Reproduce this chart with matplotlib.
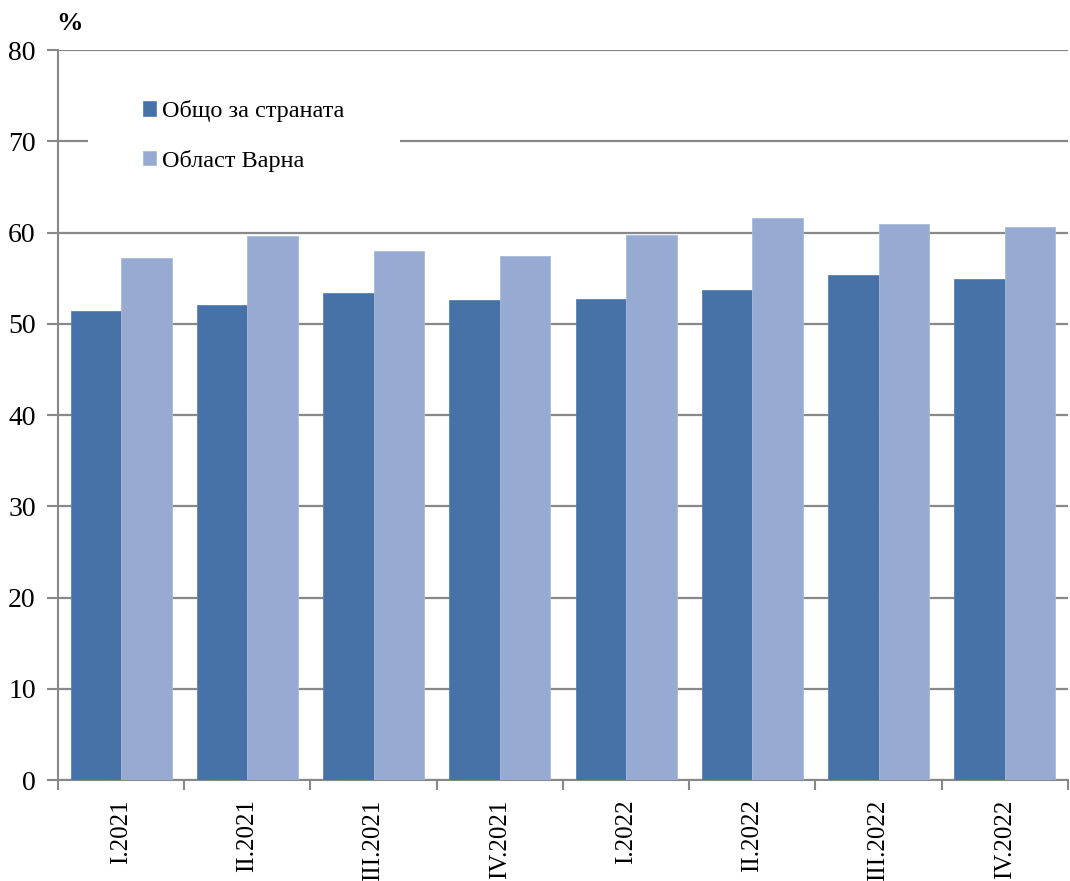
import numpy as np
import matplotlib.pyplot as plt
from matplotlib.patches import Rectangle
from matplotlib.ticker import FixedLocator

quarters = ["I.2021", "II.2021", "III.2021", "IV.2021",
            "I.2022", "II.2022", "III.2022", "IV.2022"]
country = [51.4, 52.1, 53.4, 52.6, 52.7, 53.7, 55.4, 54.9]
varna = [57.2, 59.6, 58.0, 57.4, 59.7, 61.6, 60.9, 60.6]

plt.rcParams["font.family"] = ["Liberation Serif", "DejaVu Serif"]

fig = plt.figure(figsize=(10.7, 8.81), dpi=100)
ax = fig.add_axes([0.0542, 0.1146, 0.9438, 0.8286])

x = np.arange(len(quarters))
w = 0.4
ax.bar(x - w / 2, country, w, color="#4672A7", edgecolor="#5a83b5", linewidth=0.6,
       label="Общо за страната", zorder=3)
ax.bar(x + w / 2, varna, w, color="#96AAD2", edgecolor="#a9bbdc", linewidth=0.6,
       label="Област Варна", zorder=3)

ax.set_xlim(-0.5, len(quarters) - 0.5)
ax.set_ylim(0, 80)
ax.set_yticks(range(0, 81, 10))
ax.yaxis.grid(True, color="#888888", linewidth=1.6, zorder=0)

ax.set_xticks(x)
ax.set_xticklabels(quarters, rotation=90, fontsize=18)
ax.xaxis.set_minor_locator(FixedLocator(np.arange(-0.5, len(quarters), 1.0)))
ax.tick_params(axis="x", which="major", length=0, pad=14)
ax.tick_params(axis="x", which="minor", length=7, width=1.5, color="#888888")
ax.tick_params(axis="y", length=8, width=1.5, color="#888888", labelsize=20, pad=8)

for s in ["top", "right"]:
    ax.spines[s].set_visible(False)
for s in ["left", "bottom"]:
    ax.spines[s].set_color("#888888")
    ax.spines[s].set_linewidth(1.5)

# white legend area covering the gridline
ax.add_patch(Rectangle((0.0296, 0.80), 0.309, 0.183, transform=ax.transAxes,
                       facecolor="white", edgecolor="none", zorder=4))

leg = ax.legend(loc="upper left", bbox_to_anchor=(0.084, 0.931), fontsize=17.5,
                frameon=False, borderpad=0, borderaxespad=0,
                handlelength=0.55, handleheight=0.55, handletextpad=0.25,
                labelspacing=1.12)
leg.set_zorder(5)

fig.text(0.053, 0.973, "%", fontsize=19, fontweight="bold", ha="left", va="center")

plt.savefig("out.png", dpi=100)
